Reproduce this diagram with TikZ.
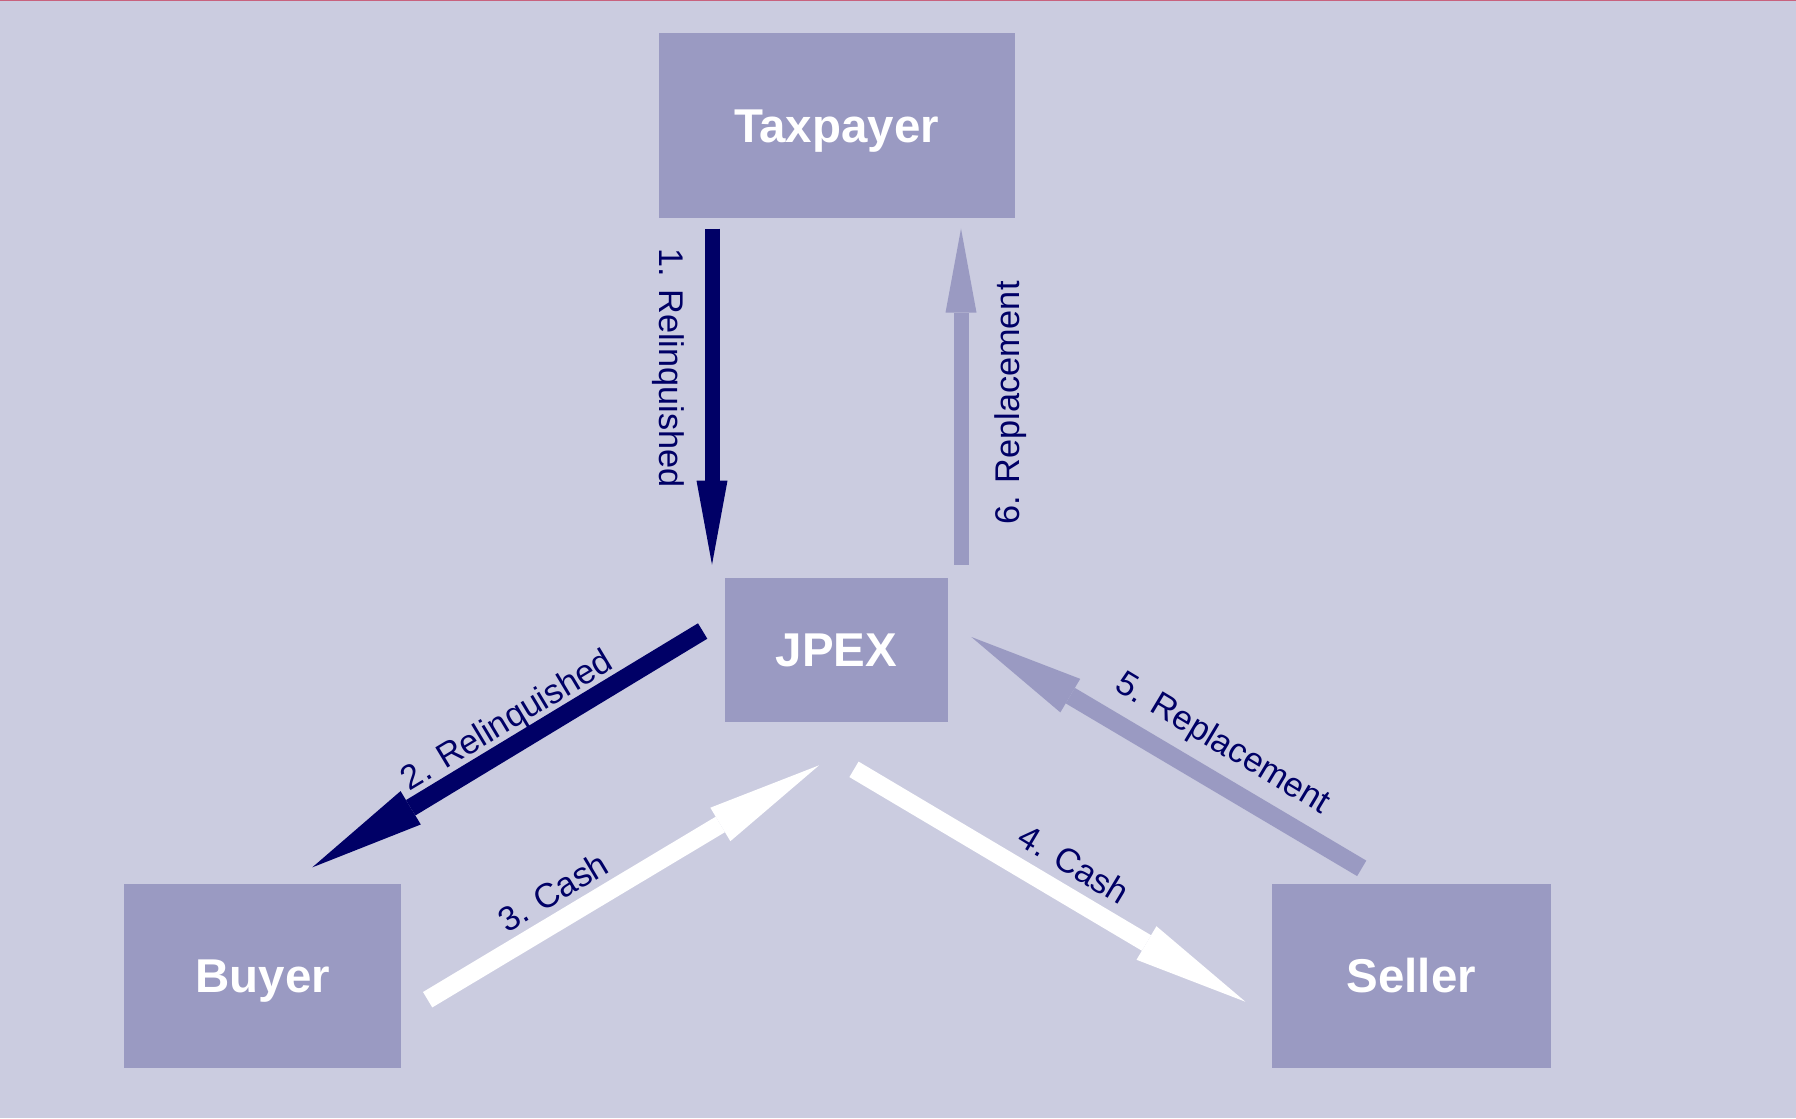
\documentclass[tikz,border=0pt]{standalone}
\usepackage{fontspec}
\setmainfont{Liberation Sans}
\usetikzlibrary{arrows.meta,positioning}
\definecolor{bgblue}{HTML}{CBCCE0}
\definecolor{boxblue}{HTML}{9A9AC2}
\definecolor{navy}{HTML}{000066}
\definecolor{edgepink}{HTML}{C8627E}
\tikzset{
  party/.style={fill=boxblue, text=white, inner sep=0pt, text depth=0pt,
    font=\fontsize{27}{30}\selectfont\bfseries},
  flow/.style={line width=3mm, -{Triangle[length=16.8mm,width=6.2mm,line width=0pt]}},
  slantflow/.style={line width=3.6mm, -{Triangle[length=23mm,width=7.8mm,line width=0pt]}},
  steplabel/.style={text=navy, inner sep=0pt, font=\fontsize{19.5}{22}\selectfont}
}
\begin{document}
\begin{tikzpicture}
\useasboundingbox (0,0) rectangle (35.92,22.36);
\fill[bgblue] (0,0) rectangle (35.92,22.36);
\fill[edgepink] (0,22.33) rectangle (35.92,22.36);

\node[party, minimum width=4.46cm, minimum height=2.88cm] (jpex) at (16.73,9.36) {JPEX};
\node[party, minimum width=7.12cm, minimum height=3.7cm, above=7.18cm of jpex] (tax) {Taxpayer};
\node[party, minimum width=5.54cm, minimum height=3.68cm, below left=3.22cm and 6.46cm of jpex] (buyer) {Buyer};
\node[party, minimum width=5.58cm, minimum height=3.68cm, below right=3.22cm and 6.46cm of jpex] (seller) {Seller};

% taxpayer <-> jpex
\draw[flow, navy] ([shift={(-2.49,-0.2)}]tax.south) -- ([shift={(-2.49,0.26)}]jpex.north);
\draw[flow, boxblue] ([shift={(2.49,0.26)}]jpex.north) -- ([shift={(2.49,-0.2)}]tax.south);
% jpex <-> buyer
\draw[slantflow, navy] ([shift={(-0.44,0.38)}]jpex.west) -- ([shift={(0.99,0.32)}]buyer.north);
\draw[slantflow, white] ([shift={(0.52,-0.48)}]buyer.east) -- ([shift={(-0.35,-0.86)}]jpex.south);
% jpex <-> seller
\draw[slantflow, white] ([shift={(0.35,-0.94)}]jpex.south) -- ([shift={(-0.52,-0.52)}]seller.west);
\draw[slantflow, boxblue] ([shift={(-0.99,0.30)}]seller.north) -- ([shift={(0.46,0.26)}]jpex.east);

\node[steplabel, rotate=-90] (l1) at (13.36,15.0) {1. Relinquished};
\node[steplabel, rotate=31] (l2) at (10.16,7.92) {2. Relinquished};
\node[steplabel, rotate=31] (l3) at (11.06,4.52) {3. Cash};
\node[steplabel, rotate=-31] (l4) at (21.48,5.08) {4. Cash};
\node[steplabel, rotate=-31] (l5) at (24.44,7.47) {5. Replacement};
\node[steplabel, rotate=90] (l6) at (20.21,14.30) {6. Replacement};
\end{tikzpicture}
\end{document}
